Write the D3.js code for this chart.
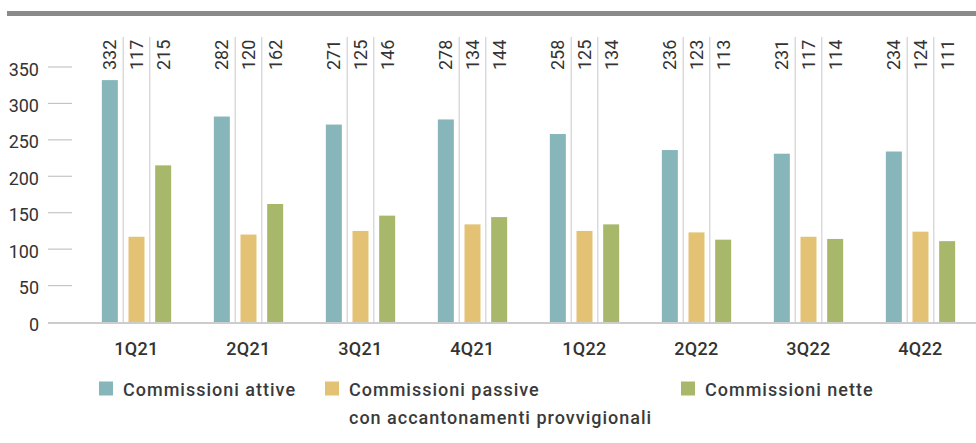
<!DOCTYPE html>
<html>
<head>
<meta charset="utf-8">
<script src="https://cdn.jsdelivr.net/npm/d3@7"></script>
<style>
  html, body { margin: 0; padding: 0; background: #ffffff; }
  svg { display: block; }
  text { font-family: Roboto, "Noto Sans", sans-serif; fill: #333333; }
</style>
</head>
<body>
<svg id="chart" width="976" height="443"></svg>
<script>
const quarters = ["1Q21", "2Q21", "3Q21", "4Q21", "1Q22", "2Q22", "3Q22", "4Q22"];
const attive  = [332, 282, 271, 278, 258, 236, 231, 234];
const passive = [117, 120, 125, 134, 125, 123, 117, 124];
const nette   = [215, 162, 146, 144, 134, 113, 114, 111];
const seriesNames = ["Commissioni attive", "Commissioni passive|con accantonamenti provvigionali", "Commissioni nette"];
const seriesColors = ["#86b6b9", "#e3c274", "#a8b86a"];
const yTicks = [0, 50, 100, 150, 200, 250, 300, 350];

const series = [attive, passive, nette];
const svg = d3.select("#chart");

// top rule
svg.append("rect").attr("x", 7).attr("y", 11).attr("width", 969).attr("height", 5).attr("fill", "#8a8a8a");

const x0 = d3.scaleBand().domain(quarters).range([80.5, 976.5]).paddingInner(0).paddingOuter(0);
const x1 = d3.scaleBand().domain([0, 1, 2]).range([0, 80]).paddingInner(0.4).paddingOuter(0.2);
const y = d3.scaleLinear().domain([0, 350]).range([322, 67]);

// y ticks
const yAxis = svg.append("g");
yTicks.forEach(t => {
  if (t > 0) {
    yAxis.append("line").attr("x1", 48).attr("x2", 72).attr("y1", y(t)).attr("y2", y(t))
      .attr("stroke", "#c4c4c4").attr("stroke-width", 1.2);
  }
  yAxis.append("text").attr("x", 39).attr("y", y(t) + 2).attr("text-anchor", "end")
    .attr("dominant-baseline", "central").style("font-size", "18px").text(t);
});

// groups
const groups = svg.append("g").selectAll("g").data(quarters).join("g")
  .attr("transform", d => `translate(${x0(d) + x0.bandwidth() / 2 - 40},0)`);

// separators
groups.each(function() {
  const g = d3.select(this);
  [1, 2].forEach(k => {
    const sx = x1(k) - (x1.step() - x1.bandwidth()) / 2;
    g.append("line").attr("x1", sx).attr("x2", sx).attr("y1", 37).attr("y2", 322)
      .attr("stroke", "#c8c8c8").attr("stroke-width", 1);
  });
});

// bars and labels
groups.each(function(q, i) {
  const g = d3.select(this);
  series.forEach((s, k) => {
    g.append("rect").attr("x", x1(k)).attr("width", x1.bandwidth())
      .attr("y", y(s[i])).attr("height", y(0) - y(s[i])).attr("fill", seriesColors[k]);
    g.append("text")
      .attr("transform", `translate(${x1(k) + x1.bandwidth() / 2},70) rotate(-90)`)
      .attr("dy", "0.36em").style("font-size", "18px").text(s[i]);
  });
});

// baseline
svg.append("line").attr("x1", 48).attr("x2", 976).attr("y1", 323).attr("y2", 323)
  .attr("stroke", "#cccccc").attr("stroke-width", 2);

// x labels
svg.append("g").selectAll("text").data(quarters).join("text")
  .attr("x", d => x0(d) + x0.bandwidth() / 2).attr("y", 355)
  .attr("text-anchor", "middle").style("font-size", "18px").style("font-weight", 500)
  .style("letter-spacing", "0.3px").text(d => d);

// legend
const legendX = [99, 325, 681];
seriesNames.forEach((name, k) => {
  const lg = svg.append("g");
  lg.append("rect").attr("x", legendX[k]).attr("y", 381.5).attr("width", 14).attr("height", 14)
    .attr("fill", seriesColors[k]);
  name.split("|").forEach((line, j) => {
    lg.append("text").attr("x", legendX[k] + 24).attr("y", 396 + j * 28)
      .style("font-size", "18px").style("font-weight", 500).style("letter-spacing", "1px")
      .style("fill", "#3a3a3a").text(line);
  });
});
</script>
</body>
</html>
